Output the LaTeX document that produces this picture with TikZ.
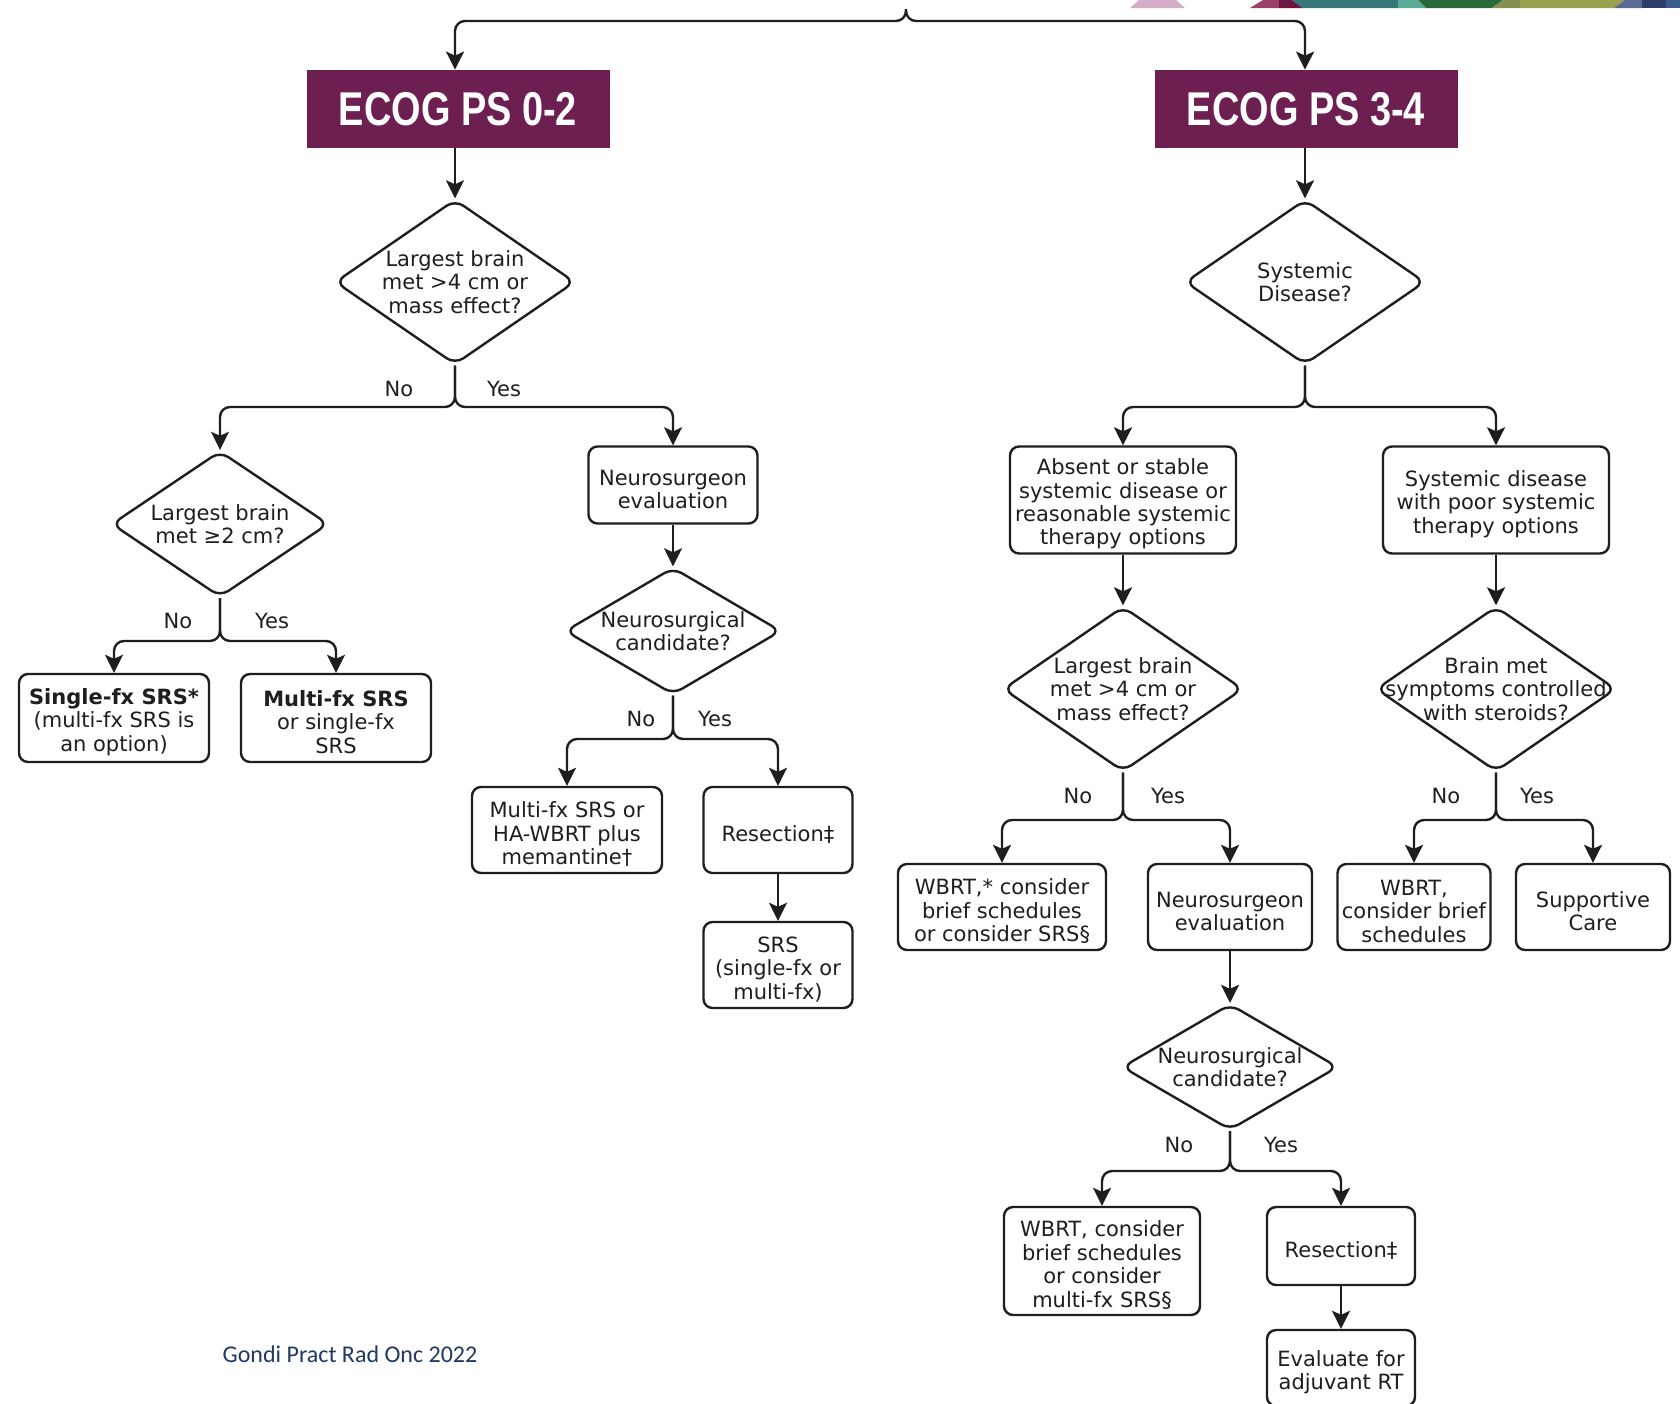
\documentclass[tikz,border=0pt]{standalone}
\usepackage{fontspec}
\setmainfont{DejaVu Sans}
\newfontfamily\hdrfont[FakeStretch=0.8]{Liberation Sans}
\newfontfamily\citefont{Carlito}
\usetikzlibrary{shapes.geometric, arrows.meta}

\definecolor{ecogpurple}{HTML}{6E1F51}
\definecolor{citeblue}{HTML}{203864}
\definecolor{ink}{HTML}{1E1E1E}
\definecolor{stpink}{HTML}{D4AEC8}
\definecolor{stmagenta}{HTML}{9B4069}
\definecolor{stplum}{HTML}{6B1740}
\definecolor{stteal}{HTML}{367878}
\definecolor{stmint}{HTML}{5BAA95}
\definecolor{stgreen}{HTML}{2B6B3B}
\definecolor{stolive}{HTML}{86904E}
\definecolor{stkhaki}{HTML}{9AA24F}
\definecolor{stslate}{HTML}{5A6A97}
\definecolor{stnavy}{HTML}{2E3E6A}
\definecolor{stblue}{HTML}{3C5B8F}

\begin{document}
\begin{tikzpicture}[x=0.5pt, y=-0.5pt,
    header/.style={fill=ecogpurple, text=white, minimum width=151.5pt, minimum height=39pt,
        font=\hdrfont\bfseries\fontsize{23.7}{26}\selectfont},
    box/.style={draw=ink, line width=1.2pt, rounded corners=4.5pt, align=center, inner sep=1pt,
        text=ink, font=\fontsize{10.5}{11.7}\selectfont},
    oneline/.style={text height=12pt},
    twoline/.style={text height=23.7pt},
    threeline/.style={text height=35.4pt},
    fourline/.style={text height=47.1pt},
    decision/.style={diamond, shape aspect=1.45, draw=ink, line width=1.2pt, rounded corners=5pt,
        align=center, inner sep=-20pt, text=ink, font=\fontsize{10.5}{11.7}\selectfont},
    lbl/.style={text=ink, font=\fontsize{10.5}{12}\selectfont},
    arr/.style={draw=ink, line width=1.2pt, rounded corners=5pt,
        -{Stealth[length=9pt, width=9pt, inset=2pt]}}]

    \fill[white] (0,0) rectangle (1680,1403);
    \useasboundingbox (0,0) rectangle (1680,1403);

    % slide strip at the top
    \fill[stpink] (1130,8) -- (1139,0) -- (1176,0) -- (1185,8) -- cycle;
    \fill[stmagenta] (1250,8) -- (1263,0) -- (1279,0) -- (1279,8) -- cycle;
    \fill[stplum] (1279,8) -- (1279,0) -- (1292,0) -- (1303,8) -- cycle;
    \fill[stteal] (1292,0) -- (1398,0) -- (1398,8) -- (1303,8) -- cycle;
    \fill[stmint] (1398,0) -- (1418,0) -- (1426,8) -- (1398,8) -- cycle;
    \fill[stgreen] (1418,0) -- (1503,0) -- (1492,8) -- (1426,8) -- cycle;
    \fill[stolive] (1503,0) -- (1520,0) -- (1520,8) -- (1492,8) -- cycle;
    \fill[stkhaki] (1520,0) -- (1625,0) -- (1614,8) -- (1520,8) -- cycle;
    \fill[stslate] (1625,0) -- (1642,0) -- (1642,8) -- (1614,8) -- cycle;
    \fill[stnavy] (1642,0) -- (1666,0) -- (1666,8) -- (1642,8) -- cycle;
    \fill[stblue] (1666,0) -- (1680,0) -- (1680,8) -- (1666,8) -- cycle;

    % performance status headers
    \node[header] (ecogA) at (458,109) {ECOG PS 0-2};
    \node[header] (ecogB) at (1306,109) {ECOG PS 3-4};

    % ECOG 0-2 branch
    \node[decision, minimum width=120pt, minimum height=82.5pt] (d1) at (455,282)
        {Largest brain\\met >4 cm or\\mass effect?};
    \node[decision, minimum width=108.5pt, minimum height=73pt] (d2) at (220,524)
        {Largest brain\\met ≥2 cm?};
    \node[box, threeline, minimum width=95pt, minimum height=44pt] (b1) at (114,718)
        {\textbf{Single-fx SRS*}\\(multi-fx SRS is\\an option)};
    \node[box, threeline, minimum width=95pt, minimum height=44pt] (b2) at (336,718)
        {\textbf{Multi-fx SRS}\\or single-fx\\SRS};
    \node[box, twoline, minimum width=84.5pt, minimum height=38.5pt] (ne1) at (673,485)
        {Neurosurgeon\\evaluation};
    \node[decision, minimum width=108pt, minimum height=63.5pt] (d3) at (673,631)
        {Neurosurgical\\candidate?};
    \node[box, threeline, minimum width=95pt, minimum height=43pt] (b3) at (567,830)
        {Multi-fx SRS or\\HA-WBRT plus\\memantine†};
    \node[box, oneline, minimum width=74.5pt, minimum height=43pt] (r1) at (778,830) {Resection‡};
    \node[box, threeline, minimum width=74.5pt, minimum height=43pt] (srs) at (778,965)
        {SRS\\(single-fx or\\multi-fx)};

    % ECOG 3-4 branch
    \node[decision, minimum width=120pt, minimum height=82.5pt] (d4) at (1305,282)
        {Systemic\\Disease?};
    \node[box, fourline, minimum width=113pt, minimum height=53.5pt] (ab) at (1123,500)
        {Absent or stable\\systemic disease or\\reasonable systemic\\therapy options};
    \node[box, threeline, minimum width=113pt, minimum height=53.5pt] (sp) at (1496,500)
        {Systemic disease\\with poor systemic\\therapy options};
    \node[decision, minimum width=120pt, minimum height=82.5pt] (d5) at (1123,689)
        {Largest brain\\met >4 cm or\\mass effect?};
    \node[decision, minimum width=120pt, minimum height=82.5pt] (d6) at (1496,689)
        {Brain met\\symptoms controlled\\with steroids?};
    \node[box, threeline, minimum width=104pt, minimum height=43pt] (w1) at (1002,907)
        {WBRT,* consider\\brief schedules\\or consider SRS§};
    \node[box, twoline, minimum width=82pt, minimum height=43pt] (ne2) at (1230,907)
        {Neurosurgeon\\evaluation};
    \node[box, threeline, minimum width=76.5pt, minimum height=43pt] (w2) at (1414,907)
        {WBRT,\\consider brief\\schedules};
    \node[box, twoline, minimum width=77pt, minimum height=43pt] (sc) at (1593,907)
        {Supportive\\Care};
    \node[decision, minimum width=108pt, minimum height=63pt] (d7) at (1230,1067)
        {Neurosurgical\\candidate?};
    \node[box, fourline, minimum width=98pt, minimum height=54pt] (w3) at (1102,1261)
        {WBRT, consider\\brief schedules\\or consider\\multi-fx SRS§};
    \node[box, oneline, minimum width=74pt, minimum height=39pt] (r2) at (1341,1246) {Resection‡};
    \node[box, twoline, minimum width=74pt, minimum height=38pt] (ev) at (1341,1368)
        {Evaluate for\\adjuvant RT};

    % split points
    \coordinate (peak) at (906,9);
    \coordinate (brA) at (455,21);
    \coordinate (brB) at (1305,21);
    \coordinate (s1) at (455,407);
    \coordinate (s2) at (220,641);
    \coordinate (s3) at (673,739);
    \coordinate (s4) at (1305,407);
    \coordinate (s5) at (1123,820);
    \coordinate (s6) at (1496,820);
    \coordinate (s7) at (1230,1171);

    % connectors
    \draw[arr, rounded corners=5pt] (peak) |- (brA) -- (brA |- ecogA.north);
    \draw[arr, rounded corners=5pt] (peak) |- (brB) -- (brB |- ecogB.north);
    \draw[arr] (d1.north |- ecogA.south) -- (d1.north);
    \draw[arr] (d4.north |- ecogB.south) -- (d4.north);

    \draw[arr] (d1.south) -- (s1) -| (d2.north);
    \draw[arr] (d1.south) -- (s1) -| (ne1.north);
    \draw[arr] (d2.south) -- (s2) -| (b1.north);
    \draw[arr] (d2.south) -- (s2) -| (b2.north);
    \draw[arr] (ne1.south) -- (d3.north);
    \draw[arr] (d3.south) -- (s3) -| (b3.north);
    \draw[arr] (d3.south) -- (s3) -| (r1.north);
    \draw[arr] (r1.south) -- (srs.north);

    \draw[arr] (d4.south) -- (s4) -| (ab.north);
    \draw[arr] (d4.south) -- (s4) -| (sp.north);
    \draw[arr] (ab.south) -- (d5.north);
    \draw[arr] (sp.south) -- (d6.north);
    \draw[arr] (d5.south) -- (s5) -| (w1.north);
    \draw[arr] (d5.south) -- (s5) -| (ne2.north);
    \draw[arr] (d6.south) -- (s6) -| (w2.north);
    \draw[arr] (d6.south) -- (s6) -| (sc.north);
    \draw[arr] (ne2.south) -- (d7.north);
    \draw[arr] (d7.south) -- (s7) -| (w3.north);
    \draw[arr] (d7.south) -- (s7) -| (r2.north);
    \draw[arr] (r2.south) -- (ev.north);

    % branch labels
    \node[lbl] (no1) at (399,389) {No};
    \node[lbl] (yes1) at (504,389) {Yes};
    \node[lbl] (no2) at (178,621) {No};
    \node[lbl] (yes2) at (272,621) {Yes};
    \node[lbl] (no3) at (641,719) {No};
    \node[lbl] (yes3) at (715,719) {Yes};
    \node[lbl] (no5) at (1078,796) {No};
    \node[lbl] (yes5) at (1168,796) {Yes};
    \node[lbl] (no6) at (1446,796) {No};
    \node[lbl] (yes6) at (1537,796) {Yes};
    \node[lbl] (no7) at (1179,1145) {No};
    \node[lbl] (yes7) at (1281,1145) {Yes};

    \node[text=citeblue, font=\citefont\fontsize{12}{14}\selectfont] (src) at (350,1354)
        {Gondi Pract Rad Onc 2022};
\end{tikzpicture}
\end{document}
